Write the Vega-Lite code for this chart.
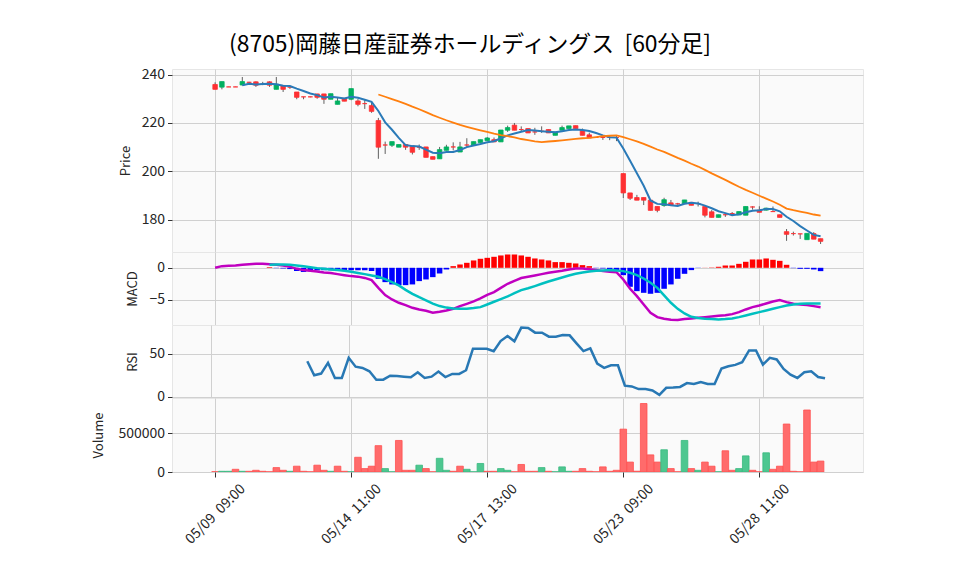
{
"$schema": "https://vega.github.io/schema/vega-lite/v6.json",
"background": "white",
"padding": {"left": 92, "top": 34, "right": 5, "bottom": 5},
"title": {"text": "(8705)岡藤日産証券ホールディングス \u00a0[60分足]", "fontSize": 22.9, "fontWeight": "normal", "color": "#000000", "anchor": "start", "frame": "group", "dx": 57, "offset": 10},
"spacing": 0,
"bounds": "flush",
"config": {
  "font": "Noto Sans CJK JP",
  "view": {"fill": "#fafafa", "stroke": "#e6e6e6"},
  "axis": {"gridColor": "#d0d0d0", "gridWidth": 1, "labelFontSize": 14, "labelColor": "#262626", "titleFontSize": 13, "titleFontWeight": "normal", "titleColor": "#262626", "tickColor": "#333333", "tickSize": 4.5, "domain": false, "labelPadding": 3, "titlePadding": 8}
},
"data": {"values": [
{"i":0,"o":235.9,"h":236.8,"l":233.9,"c":233.9,"m5":null,"m25":null,"macd":0,"sig":null,"hist":null,"rsi":null,"v":4000,"d":"d"},
{"i":1,"o":234.8,"h":237.1,"l":233.9,"c":237.1,"m5":null,"m25":null,"macd":0.26,"sig":null,"hist":null,"rsi":null,"v":9000,"d":"u"},
{"i":2,"o":234.9,"h":235.0,"l":234.9,"c":234.9,"m5":null,"m25":null,"macd":0.31,"sig":null,"hist":null,"rsi":null,"v":9000,"d":"u"},
{"i":3,"o":234.9,"h":235.0,"l":234.9,"c":234.9,"m5":null,"m25":null,"macd":0.36,"sig":null,"hist":null,"rsi":null,"v":35000,"d":"d"},
{"i":4,"o":235.7,"h":239.0,"l":235.5,"c":237.1,"m5":235.58,"m25":null,"macd":0.47,"sig":null,"hist":null,"rsi":null,"v":9000,"d":"u"},
{"i":5,"o":236.8,"h":237.0,"l":236.6,"c":236.8,"m5":236.16,"m25":null,"macd":0.57,"sig":null,"hist":null,"rsi":null,"v":9000,"d":"d"},
{"i":6,"o":237.0,"h":237.2,"l":234.9,"c":235.6,"m5":235.86,"m25":null,"macd":0.62,"sig":null,"hist":null,"rsi":null,"v":22000,"d":"d"},
{"i":7,"o":236.0,"h":237.0,"l":235.6,"c":236.0,"m5":236.08,"m25":null,"macd":0.62,"sig":null,"hist":null,"rsi":null,"v":9000,"d":"d"},
{"i":8,"o":237.0,"h":237.2,"l":234.9,"c":235.6,"m5":236.22,"m25":null,"macd":0.57,"sig":0.47,"hist":0.1,"rsi":null,"v":3000,"d":"d"},
{"i":9,"o":233.9,"h":239.0,"l":233.9,"c":236.0,"m5":236.0,"m25":null,"macd":0.47,"sig":0.52,"hist":-0.05,"rsi":null,"v":57000,"d":"d"},
{"i":10,"o":235.5,"h":235.5,"l":232.8,"c":233.9,"m5":235.42,"m25":null,"macd":0.36,"sig":0.52,"hist":-0.1,"rsi":null,"v":22000,"d":"d"},
{"i":11,"o":234.8,"h":235.2,"l":234.1,"c":234.8,"m5":235.26,"m25":null,"macd":0.16,"sig":0.47,"hist":-0.2,"rsi":null,"v":9000,"d":"u"},
{"i":12,"o":232.8,"h":232.8,"l":229.8,"c":230.6,"m5":234.18,"m25":null,"macd":-0.16,"sig":0.36,"hist":-0.5,"rsi":null,"v":75000,"d":"d"},
{"i":13,"o":230.8,"h":230.8,"l":229.8,"c":230.8,"m5":233.22,"m25":null,"macd":-0.36,"sig":0.26,"hist":-0.65,"rsi":null,"v":9000,"d":"d"},
{"i":14,"o":230.8,"h":230.9,"l":230.6,"c":230.8,"m5":232.18,"m25":null,"macd":-0.47,"sig":0.1,"hist":-0.55,"rsi":41.4,"v":3000,"d":"d"},
{"i":15,"o":232.0,"h":232.0,"l":230.0,"c":230.6,"m5":231.52,"m25":null,"macd":-0.57,"sig":-0.05,"hist":-0.4,"rsi":25.0,"v":88000,"d":"d"},
{"i":16,"o":232.0,"h":232.0,"l":227.9,"c":229.8,"m5":230.52,"m25":null,"macd":-0.73,"sig":-0.16,"hist":-0.38,"rsi":27.0,"v":22000,"d":"d"},
{"i":17,"o":229.8,"h":232.1,"l":229.8,"c":232.1,"m5":230.82,"m25":null,"macd":-0.83,"sig":-0.26,"hist":-0.38,"rsi":39.5,"v":9000,"d":"u"},
{"i":18,"o":227.7,"h":230.4,"l":227.7,"c":229.1,"m5":230.48,"m25":null,"macd":-0.99,"sig":-0.36,"hist":-0.38,"rsi":21.9,"v":75000,"d":"d"},
{"i":19,"o":230.2,"h":230.2,"l":229.0,"c":229.0,"m5":230.12,"m25":null,"macd":-1.15,"sig":-0.47,"hist":-0.38,"rsi":21.9,"v":9000,"d":"d"},
{"i":20,"o":229.8,"h":234.2,"l":229.4,"c":234.2,"m5":230.84,"m25":null,"macd":-1.3,"sig":-0.62,"hist":-0.38,"rsi":45.3,"v":3000,"d":"u"},
{"i":21,"o":229.1,"h":229.9,"l":226.9,"c":227.7,"m5":230.42,"m25":null,"macd":-1.38,"sig":-0.8,"hist":-0.38,"rsi":35.0,"v":190000,"d":"d"},
{"i":22,"o":228.0,"h":229.7,"l":225.8,"c":228.0,"m5":229.6,"m25":null,"macd":-1.58,"sig":-0.99,"hist":-0.38,"rsi":33.6,"v":44000,"d":"d"},
{"i":23,"o":227.2,"h":228.3,"l":224.2,"c":224.8,"m5":228.74,"m25":null,"macd":-1.93,"sig":-1.2,"hist":-0.5,"rsi":29.7,"v":75000,"d":"d"},
{"i":24,"o":221.0,"h":222.1,"l":205.2,"c":210.0,"m5":224.94,"m25":231.76,"macd":-3.13,"sig":-1.41,"hist":-1.72,"rsi":19.9,"v":340000,"d":"d"},
{"i":25,"o":210.9,"h":212.3,"l":207.2,"c":210.9,"m5":220.28,"m25":230.84,"macd":-4.27,"sig":-1.77,"hist":-2.24,"rsi":19.9,"v":44000,"d":"u"},
{"i":26,"o":210.8,"h":212.3,"l":210.1,"c":212.3,"m5":217.2,"m25":229.85,"macd":-4.95,"sig":-2.24,"hist":-2.6,"rsi":24.6,"v":3000,"d":"u"},
{"i":27,"o":210.0,"h":211.1,"l":210.0,"c":211.1,"m5":213.82,"m25":228.9,"macd":-5.47,"sig":-2.76,"hist":-2.71,"rsi":24.2,"v":407000,"d":"d"},
{"i":28,"o":211.1,"h":211.1,"l":208.9,"c":210.0,"m5":210.86,"m25":227.9,"macd":-5.83,"sig":-3.44,"hist":-2.71,"rsi":23.4,"v":22000,"d":"d"},
{"i":29,"o":210.4,"h":210.4,"l":207.0,"c":207.9,"m5":210.44,"m25":226.74,"macd":-6.25,"sig":-4.06,"hist":-2.6,"rsi":22.7,"v":22000,"d":"d"},
{"i":30,"o":210.0,"h":211.1,"l":208.9,"c":210.0,"m5":210.26,"m25":225.66,"macd":-6.51,"sig":-4.6,"hist":-2.08,"rsi":28.5,"v":88000,"d":"u"},
{"i":31,"o":210.1,"h":210.1,"l":205.8,"c":205.8,"m5":208.96,"m25":224.47,"macd":-6.72,"sig":-5.1,"hist":-1.82,"rsi":21.9,"v":44000,"d":"d"},
{"i":32,"o":206.1,"h":206.1,"l":205.0,"c":205.0,"m5":207.74,"m25":223.23,"macd":-7.03,"sig":-5.6,"hist":-1.46,"rsi":23.4,"v":3000,"d":"d"},
{"i":33,"o":205.2,"h":210.1,"l":205.2,"c":209.0,"m5":207.54,"m25":222.17,"macd":-6.88,"sig":-5.98,"hist":-0.89,"rsi":29.3,"v":177000,"d":"u"},
{"i":34,"o":208.7,"h":211.0,"l":208.7,"c":210.1,"m5":207.98,"m25":221.13,"macd":-6.67,"sig":-6.22,"hist":-0.26,"rsi":23.0,"v":22000,"d":"u"},
{"i":35,"o":210.1,"h":212.0,"l":208.7,"c":210.1,"m5":208.0,"m25":220.18,"macd":-6.41,"sig":-6.35,"hist":0.26,"rsi":26.6,"v":9000,"d":"d"},
{"i":36,"o":208.0,"h":212.2,"l":208.0,"c":210.1,"m5":208.86,"m25":219.19,"macd":-5.99,"sig":-6.41,"hist":0.52,"rsi":26.6,"v":75000,"d":"d"},
{"i":37,"o":210.9,"h":213.7,"l":210.1,"c":210.9,"m5":210.04,"m25":218.4,"macd":-5.63,"sig":-6.41,"hist":0.78,"rsi":30.9,"v":35000,"d":"u"},
{"i":38,"o":210.9,"h":212.3,"l":210.9,"c":212.3,"m5":210.7,"m25":217.66,"macd":-5.26,"sig":-6.3,"hist":1.15,"rsi":55.9,"v":3000,"d":"u"},
{"i":39,"o":211.9,"h":213.1,"l":211.9,"c":213.1,"m5":211.3,"m25":216.96,"macd":-4.79,"sig":-6.15,"hist":1.41,"rsi":55.9,"v":110000,"d":"u"},
{"i":40,"o":212.7,"h":214.2,"l":212.7,"c":213.8,"m5":212.04,"m25":216.28,"macd":-4.22,"sig":-5.73,"hist":1.56,"rsi":55.9,"v":9000,"d":"d"},
{"i":41,"o":213.1,"h":214.0,"l":212.2,"c":212.2,"m5":212.46,"m25":215.58,"macd":-3.8,"sig":-5.31,"hist":1.72,"rsi":53.1,"v":9000,"d":"d"},
{"i":42,"o":212.2,"h":217.1,"l":212.2,"c":217.1,"m5":213.7,"m25":214.98,"macd":-3.13,"sig":-4.9,"hist":1.93,"rsi":64.8,"v":44000,"d":"u"},
{"i":43,"o":217.0,"h":218.9,"l":216.3,"c":218.1,"m5":214.86,"m25":214.54,"macd":-2.5,"sig":-4.48,"hist":2.08,"rsi":70.7,"v":22000,"d":"u"},
{"i":44,"o":219.1,"h":220.0,"l":217.0,"c":217.0,"m5":215.64,"m25":214.06,"macd":-2.03,"sig":-3.96,"hist":2.08,"rsi":64.5,"v":3000,"d":"d"},
{"i":45,"o":217.3,"h":218.6,"l":216.6,"c":217.3,"m5":216.34,"m25":213.38,"macd":-1.6,"sig":-3.49,"hist":1.93,"rsi":80.5,"v":97000,"d":"d"},
{"i":46,"o":217.7,"h":217.7,"l":215.9,"c":215.9,"m5":217.08,"m25":212.91,"macd":-1.41,"sig":-3.2,"hist":1.72,"rsi":80.1,"v":9000,"d":"d"},
{"i":47,"o":216.3,"h":218.0,"l":215.1,"c":216.3,"m5":216.92,"m25":212.44,"macd":-1.2,"sig":-2.86,"hist":1.46,"rsi":74.6,"v":9000,"d":"d"},
{"i":48,"o":216.6,"h":218.6,"l":215.9,"c":216.6,"m5":216.62,"m25":212.12,"macd":-0.99,"sig":-2.5,"hist":1.3,"rsi":74.6,"v":57000,"d":"u"},
{"i":49,"o":217.3,"h":217.3,"l":215.9,"c":215.9,"m5":216.4,"m25":212.35,"macd":-0.78,"sig":-2.14,"hist":1.15,"rsi":69.9,"v":9000,"d":"d"},
{"i":50,"o":214.9,"h":216.2,"l":214.9,"c":216.2,"m5":216.18,"m25":212.56,"macd":-0.63,"sig":-1.82,"hist":0.89,"rsi":69.9,"v":3000,"d":"u"},
{"i":51,"o":217.0,"h":218.9,"l":217.0,"c":218.1,"m5":216.62,"m25":212.8,"macd":-0.47,"sig":-1.51,"hist":0.89,"rsi":71.9,"v":66000,"d":"u"},
{"i":52,"o":217.7,"h":218.8,"l":217.7,"c":218.8,"m5":217.12,"m25":213.1,"macd":-0.26,"sig":-1.2,"hist":0.78,"rsi":71.5,"v":9000,"d":"u"},
{"i":53,"o":218.9,"h":218.9,"l":217.7,"c":217.7,"m5":217.34,"m25":213.41,"macd":-0.1,"sig":-0.94,"hist":0.68,"rsi":62.1,"v":9000,"d":"d"},
{"i":54,"o":216.9,"h":217.7,"l":214.9,"c":214.9,"m5":217.14,"m25":213.69,"macd":-0.1,"sig":-0.73,"hist":0.42,"rsi":53.1,"v":44000,"d":"d"},
{"i":55,"o":215.1,"h":216.0,"l":213.8,"c":213.8,"m5":216.66,"m25":213.84,"macd":-0.21,"sig":-0.57,"hist":0.26,"rsi":56.3,"v":9000,"d":"d"},
{"i":56,"o":214.0,"h":214.1,"l":213.9,"c":214.0,"m5":215.84,"m25":214.17,"macd":-0.36,"sig":-0.47,"hist":-0.05,"rsi":38.7,"v":3000,"d":"d"},
{"i":57,"o":214.0,"h":214.6,"l":213.0,"c":214.0,"m5":214.88,"m25":214.53,"macd":-0.52,"sig":-0.42,"hist":-0.1,"rsi":33.6,"v":66000,"d":"d"},
{"i":58,"o":214.0,"h":214.8,"l":212.9,"c":214.0,"m5":214.14,"m25":214.73,"macd":-0.63,"sig":-0.36,"hist":-0.26,"rsi":36.7,"v":9000,"d":"d"},
{"i":59,"o":214.0,"h":214.8,"l":212.5,"c":214.0,"m5":213.96,"m25":214.89,"macd":-0.68,"sig":-0.42,"hist":-0.36,"rsi":36.7,"v":22000,"d":"d"},
{"i":60,"o":199.1,"h":199.1,"l":189.0,"c":191.1,"m5":209.42,"m25":214.13,"macd":-1.82,"sig":-0.52,"hist":-1.15,"rsi":12.9,"v":553000,"d":"d"},
{"i":61,"o":191.1,"h":191.1,"l":188.2,"c":188.9,"m5":204.4,"m25":213.28,"macd":-3.28,"sig":-0.78,"hist":-2.97,"rsi":12.1,"v":128000,"d":"d"},
{"i":62,"o":189.2,"h":190.3,"l":188.1,"c":188.1,"m5":199.22,"m25":212.37,"macd":-4.43,"sig":-1.15,"hist":-3.65,"rsi":9.0,"v":10000,"d":"d"},
{"i":63,"o":189.2,"h":189.2,"l":186.1,"c":188.1,"m5":194.04,"m25":211.4,"macd":-5.73,"sig":-1.67,"hist":-3.91,"rsi":9.0,"v":884000,"d":"d"},
{"i":64,"o":188.1,"h":188.1,"l":183.9,"c":183.9,"m5":188.02,"m25":210.23,"macd":-7.03,"sig":-2.34,"hist":-4.06,"rsi":7.4,"v":221000,"d":"d"},
{"i":65,"o":185.5,"h":185.5,"l":183.1,"c":183.9,"m5":186.58,"m25":209.04,"macd":-7.71,"sig":-3.13,"hist":-3.91,"rsi":2.3,"v":128000,"d":"d"},
{"i":66,"o":185.9,"h":189.1,"l":185.4,"c":188.3,"m5":186.46,"m25":208.08,"macd":-7.97,"sig":-4.32,"hist":-3.28,"rsi":10.5,"v":287000,"d":"u"},
{"i":67,"o":187.0,"h":188.2,"l":186.0,"c":186.0,"m5":186.04,"m25":206.84,"macd":-8.13,"sig":-5.47,"hist":-2.6,"rsi":10.9,"v":44000,"d":"d"},
{"i":68,"o":186.6,"h":187.0,"l":186.2,"c":186.6,"m5":185.74,"m25":205.58,"macd":-8.15,"sig":-6.41,"hist":-1.72,"rsi":11.5,"v":3000,"d":"d"},
{"i":69,"o":186.7,"h":188.2,"l":186.7,"c":188.2,"m5":186.6,"m25":204.42,"macd":-8.02,"sig":-7.14,"hist":-0.94,"rsi":16.0,"v":407000,"d":"u"},
{"i":70,"o":187.2,"h":187.2,"l":186.0,"c":186.0,"m5":187.02,"m25":203.17,"macd":-7.92,"sig":-7.66,"hist":-0.36,"rsi":14.8,"v":44000,"d":"d"},
{"i":71,"o":186.7,"h":187.5,"l":185.5,"c":186.7,"m5":186.7,"m25":202.0,"macd":-7.81,"sig":-7.86,"hist":-0.03,"rsi":17.2,"v":22000,"d":"u"},
{"i":72,"o":185.5,"h":185.5,"l":181.0,"c":181.9,"m5":185.88,"m25":200.63,"macd":-7.71,"sig":-7.97,"hist":0.02,"rsi":14.8,"v":128000,"d":"d"},
{"i":73,"o":183.3,"h":184.0,"l":181.0,"c":181.0,"m5":184.76,"m25":199.2,"macd":-7.6,"sig":-8.02,"hist":0.05,"rsi":14.8,"v":75000,"d":"d"},
{"i":74,"o":181.0,"h":182.1,"l":181.0,"c":182.1,"m5":183.54,"m25":197.85,"macd":-7.5,"sig":-8.07,"hist":0.16,"rsi":32.8,"v":3000,"d":"u"},
{"i":75,"o":182.1,"h":182.8,"l":181.2,"c":182.1,"m5":182.76,"m25":196.49,"macd":-7.4,"sig":-8.02,"hist":0.36,"rsi":35.5,"v":274000,"d":"d"},
{"i":76,"o":182.6,"h":183.2,"l":182.0,"c":182.6,"m5":181.94,"m25":195.07,"macd":-7.24,"sig":-7.92,"hist":0.36,"rsi":37.1,"v":22000,"d":"d"},
{"i":77,"o":182.0,"h":183.4,"l":182.0,"c":183.4,"m5":182.24,"m25":193.65,"macd":-6.93,"sig":-7.71,"hist":0.62,"rsi":40.2,"v":44000,"d":"u"},
{"i":78,"o":181.9,"h":185.5,"l":181.9,"c":185.5,"m5":183.14,"m25":192.36,"macd":-6.51,"sig":-7.45,"hist":0.94,"rsi":53.9,"v":208000,"d":"u"},
{"i":79,"o":185.3,"h":185.6,"l":184.2,"c":185.3,"m5":183.78,"m25":191.18,"macd":-6.15,"sig":-7.19,"hist":1.3,"rsi":53.9,"v":22000,"d":"d"},
{"i":80,"o":184.0,"h":185.6,"l":183.1,"c":183.1,"m5":183.98,"m25":189.95,"macd":-5.89,"sig":-6.93,"hist":1.3,"rsi":37.5,"v":3000,"d":"d"},
{"i":81,"o":184.0,"h":185.0,"l":183.8,"c":184.8,"m5":184.42,"m25":188.78,"macd":-5.57,"sig":-6.67,"hist":1.46,"rsi":45.3,"v":248000,"d":"u"},
{"i":82,"o":183.4,"h":185.5,"l":183.4,"c":183.4,"m5":184.42,"m25":187.56,"macd":-5.26,"sig":-6.41,"hist":1.25,"rsi":43.4,"v":35000,"d":"d"},
{"i":83,"o":182.1,"h":182.1,"l":181.0,"c":181.0,"m5":183.52,"m25":186.24,"macd":-5.05,"sig":-6.15,"hist":1.09,"rsi":32.4,"v":75000,"d":"d"},
{"i":84,"o":175.1,"h":176.2,"l":171.3,"c":174.0,"m5":181.26,"m25":184.64,"macd":-5.36,"sig":-5.89,"hist":0.47,"rsi":25.8,"v":619000,"d":"d"},
{"i":85,"o":174.3,"h":175.1,"l":173.5,"c":174.3,"m5":179.5,"m25":183.97,"macd":-5.63,"sig":-5.73,"hist":-0.05,"rsi":21.9,"v":9000,"d":"d"},
{"i":86,"o":174.2,"h":174.2,"l":172.1,"c":174.2,"m5":177.38,"m25":183.38,"macd":-5.73,"sig":-5.63,"hist":-0.16,"rsi":28.5,"v":3000,"d":"d"},
{"i":87,"o":171.8,"h":174.4,"l":171.8,"c":174.4,"m5":175.58,"m25":182.83,"macd":-5.83,"sig":-5.57,"hist":-0.16,"rsi":29.7,"v":800000,"d":"d"},
{"i":88,"o":174.3,"h":174.9,"l":172.0,"c":172.0,"m5":173.78,"m25":182.19,"macd":-5.99,"sig":-5.57,"hist":-0.26,"rsi":23.0,"v":128000,"d":"d"},
{"i":89,"o":172.2,"h":172.2,"l":170.0,"c":171.1,"m5":173.2,"m25":181.68,"macd":-6.15,"sig":-5.57,"hist":-0.52,"rsi":21.5,"v":141000,"d":"d"}
]},
"vconcat": [
{
  "width": 691, "height": 183,
  "encoding": {
    "x": {"field": "i", "type": "quantitative", "scale": {"domain": [-5.6, 94.5], "nice": false, "zero": false}, "axis": {"values": [0, 20, 40, 60, 80], "labels": false, "ticks": false, "title": null, "grid": true}}
  },
  "layer": [
    {"mark": {"type": "rule", "color": "#606060", "strokeWidth": 1, "clip": true},
     "encoding": {"y": {"field": "l", "type": "quantitative", "title": "Price", "scale": {"domain": [166.7, 242.3], "nice": false, "zero": false}, "axis": {"values": [180, 200, 220, 240], "titlePadding": 9}}, "y2": {"field": "h"}}},
    {"mark": {"type": "bar", "width": 4.5, "strokeWidth": 0.8, "clip": true},
     "encoding": {"y": {"field": "o", "type": "quantitative", "title": "Price"}, "y2": {"field": "c"},
       "color": {"condition": {"test": "datum.c > datum.o", "value": "#00b060"}, "value": "#fe3032"},
       "stroke": {"condition": {"test": "datum.c > datum.o", "value": "#00b060"}, "value": "#fe3032"}}},
    {"mark": {"type": "line", "color": "#2a7ab8", "strokeWidth": 2, "clip": true},
     "encoding": {"y": {"field": "m5", "type": "quantitative", "title": "Price"}}},
    {"mark": {"type": "line", "color": "#ff7f0e", "strokeWidth": 1.8, "clip": true},
     "encoding": {"y": {"field": "m25", "type": "quantitative", "title": "Price"}}}
  ]
},
{
  "width": 691, "height": 73,
  "encoding": {
    "x": {"field": "i", "type": "quantitative", "scale": {"domain": [-5.6, 94.5], "nice": false, "zero": false}, "axis": {"values": [0, 20, 40, 60, 80], "labels": false, "ticks": false, "title": null, "grid": true}}
  },
  "layer": [
    {"mark": {"type": "bar", "width": 5.5, "clip": true},
     "encoding": {"y": {"field": "hist", "type": "quantitative", "title": "MACD", "scale": {"domain": [-8.94, 2.47], "nice": false, "zero": false}, "axis": {"values": [-5, 0], "titlePadding": 9}}, "y2": {"datum": 0},
       "color": {"condition": {"test": "datum.hist > 0", "value": "#ff0000"}, "value": "#0000ff"}}},
    {"mark": {"type": "line", "color": "#c000c0", "strokeWidth": 2.5, "clip": true},
     "encoding": {"y": {"field": "macd", "type": "quantitative", "title": "MACD"}}},
    {"mark": {"type": "line", "color": "#00c0c0", "strokeWidth": 2.5, "clip": true},
     "encoding": {"y": {"field": "sig", "type": "quantitative", "title": "MACD"}}}
  ]
},
{
  "width": 691, "height": 73,
  "mark": {"type": "line", "color": "#2878b4", "strokeWidth": 2.5, "clip": true},
  "encoding": {
    "x": {"field": "i", "type": "quantitative", "scale": {"domain": [-5.6, 94.5], "nice": false, "zero": false}, "axis": {"values": [0, 20, 40, 60, 80], "labels": false, "ticks": false, "title": null, "grid": true}},
    "y": {"field": "rsi", "type": "quantitative", "title": "RSI", "scale": {"domain": [-1.4, 83.5], "nice": false, "zero": false}, "axis": {"values": [0, 50], "titlePadding": 9}}
  }
},
{
  "width": 691, "height": 74,
  "mark": {"type": "bar", "width": 6.6, "strokeWidth": 0.8, "clip": true},
  "encoding": {
    "x": {"field": "i", "type": "quantitative", "scale": {"domain": [-5.6, 94.5], "nice": false, "zero": false}, "axis": {"values": [0, 20, 40, 60, 80], "title": null, "grid": true, "tickSize": 5, "labelAngle": -45, "labelAlign": "center", "labelBaseline": "middle", "labelPadding": 37, "labelFontSize": 14, "labelFlush": false, "labelBound": false, "labelOverlap": false, "labelExpr": "datum.value == 0 ? '05/09 \u00a009:00' : datum.value == 20 ? '05/14 \u00a011:00' : datum.value == 40 ? '05/17 \u00a013:00' : datum.value == 60 ? '05/23 \u00a009:00' : '05/28 \u00a011:00'"}},
    "y": {"field": "v", "type": "quantitative", "title": "Volume", "scale": {"domain": [0, 955000], "nice": false, "zero": false}, "axis": {"values": [0, 500000], "format": "d", "titlePadding": 12}},
    "y2": {"datum": 0},
    "color": {"field": "d", "type": "nominal", "scale": {"domain": ["u", "d"], "range": ["#4dc790", "#ff6b6b"]}, "legend": null},
    "stroke": {"field": "d", "type": "nominal", "scale": {"domain": ["u", "d"], "range": ["#37b97f", "#ff4f4f"]}, "legend": null}
  }
}
]
}
